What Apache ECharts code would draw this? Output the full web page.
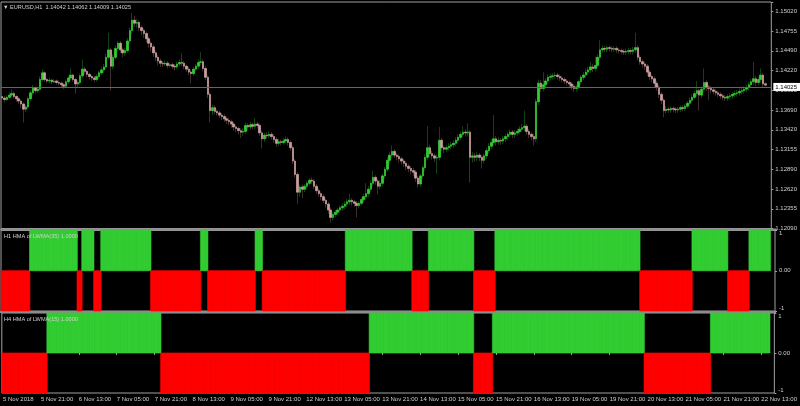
<!DOCTYPE html>
<html>
<head>
<meta charset="utf-8">
<script src="https://cdn.jsdelivr.net/npm/echarts@6/dist/echarts.min.js"></script>
<style>
  html, body { margin: 0; padding: 0; background: #000; }
  #chart { width: 800px; height: 406px; }
</style>
</head>
<body>
<div id="chart"></div>
<script>
// price axis tick labels (right side), bottom to top
const priceTicks = ['1.12090', '1.12355', '1.12620', '1.12890', '1.13155', '1.13420',
  '1.13690', '1.13955', '1.14220', '1.14490', '1.14755', '1.15020'];

// time labels, one every 16 hourly bars
const timeLabels = ['5 Nov 2018', '5 Nov 21:00', '6 Nov 13:00', '7 Nov 05:00', '7 Nov 21:00',
  '8 Nov 13:00', '9 Nov 05:00', '9 Nov 21:00', '12 Nov 13:00', '13 Nov 05:00', '13 Nov 21:00',
  '14 Nov 13:00', '15 Nov 05:00', '15 Nov 21:00', '16 Nov 13:00', '19 Nov 05:00', '19 Nov 21:00',
  '20 Nov 13:00', '21 Nov 05:00', '21 Nov 21:00', '22 Nov 13:00'];

// EURUSD H1 candles (open of each bar = previous close)
const firstOpen = 1.1387;
const closes = [
  1.1385,1.1383,1.1386,1.1389,1.1391,1.1387,1.1384,1.1381,1.1377,1.1370,
  1.1373,1.1384,1.1392,1.1399,1.1395,1.1397,1.1410,1.1419,1.1410,1.1408,
  1.1409,1.1407,1.1408,1.1406,1.1405,1.1403,1.1401,1.1407,1.1412,1.1416,
  1.1410,1.1404,1.1406,1.1415,1.1424,1.1421,1.1417,1.1414,1.1412,1.1410,
  1.1414,1.1419,1.1423,1.1427,1.1440,1.1450,1.1428,1.1440,1.1452,1.1459,
  1.1450,1.1446,1.1449,1.1462,1.1476,1.1490,1.1486,1.1487,1.1480,1.1476,
  1.1472,1.1465,1.1459,1.1454,1.1446,1.1440,1.1435,1.1432,1.1431,1.1432,
  1.1429,1.1430,1.1428,1.1427,1.1431,1.1433,1.1432,1.1428,1.1424,1.1420,
  1.1418,1.1424,1.1428,1.1433,1.1434,1.1425,1.1413,1.1390,1.1368,1.1372,
  1.1367,1.1365,1.1362,1.1360,1.1357,1.1355,1.1353,1.1350,1.1346,1.1344,
  1.1341,1.1339,1.1340,1.1348,1.1346,1.1349,1.1347,1.1350,1.1348,1.1338,
  1.1330,1.1335,1.1334,1.1336,1.1333,1.1329,1.1324,1.1326,1.1325,1.1327,
  1.1329,1.1325,1.1318,1.1300,1.1282,1.1258,1.1265,1.1262,1.1266,1.1270,
  1.1274,1.1273,1.1266,1.1260,1.1256,1.1252,1.1247,1.1242,1.1234,1.1224,
  1.1228,1.1231,1.1234,1.1237,1.1239,1.1242,1.1245,1.1247,1.1245,1.1243,
  1.1240,1.1243,1.1248,1.1252,1.1256,1.1262,1.1270,1.1278,1.1273,1.1266,
  1.1270,1.1280,1.1289,1.1301,1.1308,1.1313,1.1308,1.1306,1.1303,1.1300,
  1.1297,1.1293,1.1290,1.1287,1.1285,1.1277,1.1269,1.1280,1.1291,1.1305,
  1.1318,1.1310,1.1307,1.1304,1.1305,1.1328,1.1318,1.1316,1.1318,1.1320,
  1.1322,1.1324,1.1328,1.1332,1.1336,1.1339,1.1338,1.1339,1.1305,1.1307,
  1.1305,1.1308,1.1305,1.1301,1.1307,1.1314,1.1320,1.1325,1.1330,1.1326,
  1.1328,1.1327,1.1330,1.1333,1.1336,1.1339,1.1336,1.1338,1.1340,1.1343,
  1.1345,1.1347,1.1340,1.1336,1.1333,1.1330,1.1380,1.1405,1.1398,1.1403,
  1.1408,1.1413,1.1414,1.1415,1.1416,1.1414,1.1412,1.1410,1.1408,1.1406,
  1.1404,1.1401,1.1398,1.1400,1.1407,1.1413,1.1416,1.1420,1.1423,1.1427,
  1.1425,1.1429,1.1440,1.1450,1.1452,1.1451,1.1453,1.1452,1.1451,1.1452,
  1.1450,1.1449,1.1448,1.1447,1.1448,1.1449,1.1448,1.1450,1.1453,1.1440,
  1.1434,1.1431,1.1428,1.1420,1.1414,1.1411,1.1405,1.1400,1.1390,1.1382,
  1.1368,1.1370,1.1369,1.1371,1.1370,1.1369,1.1370,1.1372,1.1371,1.1374,
  1.1378,1.1382,1.1386,1.1391,1.1395,1.1389,1.1397,1.1406,1.1400,1.1398,
  1.1396,1.1394,1.1392,1.1390,1.1388,1.1386,1.1385,1.1387,1.1388,1.1390,
  1.1391,1.1392,1.1394,1.1395,1.1397,1.1399,1.1403,1.1407,1.1411,1.1406,
  1.1410,1.1416,1.14042,1.14025
];
const lows = [
  1.1382,1.1379,1.1381,1.1384,1.1386,1.1384,1.1380,1.1377,1.1372,1.1352,
  1.1366,1.1370,1.1381,1.1389,1.1391,1.1392,1.1395,1.1407,1.1407,1.1405,
  1.1405,1.1404,1.1405,1.1403,1.1402,1.1399,1.1397,1.1399,1.1404,1.1409,
  1.1407,1.1391,1.1400,1.1403,1.1412,1.1417,1.1413,1.1410,1.1408,1.1406,
  1.1407,1.1411,1.1416,1.1419,1.1424,1.1437,1.1395,1.1424,1.1437,1.1448,
  1.1446,1.1440,1.1442,1.1446,1.1458,1.1472,1.1481,1.1480,1.1475,1.1470,
  1.1466,1.1460,1.1453,1.1448,1.1441,1.1435,1.1429,1.1427,1.1427,1.1428,
  1.1425,1.1426,1.1424,1.1422,1.1424,1.1428,1.1428,1.1424,1.1420,1.1416,
  1.1405,1.1415,1.1421,1.1425,1.1429,1.1421,1.1409,1.1385,1.1352,1.1362,
  1.1363,1.1361,1.1358,1.1355,1.1353,1.1350,1.1348,1.1345,1.1341,1.1339,
  1.1336,1.1331,1.1334,1.1336,1.1341,1.1342,1.1343,1.1343,1.1344,1.1334,
  1.1317,1.1326,1.1330,1.1331,1.1329,1.1325,1.1319,1.1320,1.1321,1.1322,
  1.1324,1.1321,1.1314,1.1296,1.1278,1.1242,1.1252,1.1250,1.1258,1.1262,
  1.1267,1.1269,1.1262,1.1256,1.1252,1.1247,1.1243,1.1237,1.1229,1.1217,
  1.1220,1.1224,1.1227,1.1230,1.1233,1.1235,1.1238,1.1241,1.1240,1.1238,
  1.1224,1.1236,1.1240,1.1244,1.1248,1.1252,1.1258,1.1266,1.1268,1.1255,
  1.1262,1.1266,1.1276,1.1286,1.1297,1.1304,1.1304,1.1301,1.1298,1.1295,
  1.1292,1.1288,1.1285,1.1282,1.1280,1.1272,1.1264,1.1265,1.1276,1.1287,
  1.1301,1.1305,1.1302,1.1299,1.1283,1.1301,1.1313,1.1311,1.1312,1.1314,
  1.1316,1.1318,1.1320,1.1324,1.1328,1.1332,1.1333,1.1333,1.1271,1.1298,
  1.1299,1.1300,1.1300,1.1290,1.1297,1.1303,1.1310,1.1316,1.1321,1.1321,
  1.1322,1.1322,1.1323,1.1326,1.1329,1.1332,1.1331,1.1331,1.1334,1.1336,
  1.1339,1.1340,1.1335,1.1331,1.1328,1.1321,1.1326,1.1376,1.1393,1.1394,
  1.1399,1.1404,1.1409,1.1410,1.1411,1.1410,1.1408,1.1406,1.1404,1.1402,
  1.1399,1.1396,1.1393,1.1394,1.1397,1.1403,1.1409,1.1412,1.1416,1.1419,
  1.1420,1.1421,1.1426,1.1436,1.1446,1.1447,1.1447,1.1448,1.1447,1.1447,
  1.1446,1.1445,1.1444,1.1443,1.1443,1.1444,1.1444,1.1444,1.1446,1.1436,
  1.1430,1.1426,1.1423,1.1415,1.1409,1.1406,1.1400,1.1395,1.1385,1.1377,
  1.1359,1.1364,1.1365,1.1365,1.1366,1.1365,1.1365,1.1366,1.1367,1.1368,
  1.1371,1.1375,1.1379,1.1383,1.1387,1.1368,1.1385,1.1393,1.1395,1.1382,
  1.1391,1.1390,1.1388,1.1386,1.1384,1.1382,1.1381,1.1381,1.1383,1.1384,
  1.1386,1.1387,1.1388,1.1390,1.1391,1.1393,1.1395,1.1399,1.1403,1.1401,
  1.1402,1.1406,1.1400,1.14009
];
const highs = [
  1.1390,1.1388,1.1389,1.1393,1.1397,1.1394,1.1389,1.1386,1.1383,1.1379,
  1.1376,1.1387,1.1395,1.1403,1.1401,1.1400,1.1414,1.1424,1.1421,1.1412,
  1.1412,1.1411,1.1411,1.1410,1.1409,1.1407,1.1405,1.1410,1.1415,1.1425,
  1.1418,1.1412,1.1409,1.1418,1.1437,1.1427,1.1423,1.1419,1.1416,1.1415,
  1.1417,1.1422,1.1427,1.1431,1.1445,1.1473,1.1453,1.1444,1.1456,1.1462,
  1.1462,1.1453,1.1453,1.1466,1.1480,1.1500,1.1496,1.1492,1.1490,1.1483,
  1.1479,1.1475,1.1468,1.1462,1.1457,1.1449,1.1443,1.1438,1.1435,1.1436,
  1.1435,1.1433,1.1433,1.1431,1.1434,1.1437,1.1445,1.1435,1.1430,1.1427,
  1.1423,1.1427,1.1431,1.1437,1.1447,1.1437,1.1428,1.1416,1.1393,1.1376,
  1.1375,1.1370,1.1368,1.1365,1.1363,1.1360,1.1358,1.1356,1.1353,1.1349,
  1.1347,1.1344,1.1344,1.1352,1.1351,1.1353,1.1352,1.1358,1.1353,1.1351,
  1.1341,1.1338,1.1339,1.1340,1.1339,1.1336,1.1332,1.1330,1.1329,1.1331,
  1.1333,1.1332,1.1328,1.1321,1.1303,1.1285,1.1268,1.1268,1.1269,1.1273,
  1.1277,1.1278,1.1276,1.1269,1.1263,1.1259,1.1255,1.1250,1.1245,1.1237,
  1.1231,1.1234,1.1237,1.1240,1.1243,1.1246,1.1249,1.1256,1.1250,1.1248,
  1.1246,1.1246,1.1251,1.1256,1.1270,1.1266,1.1274,1.1287,1.1281,1.1276,
  1.1274,1.1283,1.1292,1.1305,1.1312,1.1321,1.1316,1.1311,1.1309,1.1306,
  1.1303,1.1300,1.1296,1.1293,1.1291,1.1288,1.1280,1.1283,1.1294,1.1309,
  1.1347,1.1322,1.1314,1.1310,1.1309,1.1346,1.1331,1.1321,1.1322,1.1324,
  1.1326,1.1328,1.1332,1.1336,1.1340,1.1347,1.1343,1.1351,1.1342,1.1312,
  1.1311,1.1312,1.1311,1.1308,1.1310,1.1318,1.1324,1.1329,1.1362,1.1334,
  1.1332,1.1331,1.1334,1.1337,1.1340,1.1343,1.1342,1.1342,1.1344,1.1347,
  1.1350,1.1368,1.1350,1.1343,1.1339,1.1337,1.1384,1.1410,1.1409,1.1420,
  1.1412,1.1417,1.1418,1.1419,1.1420,1.1419,1.1417,1.1415,1.1413,1.1411,
  1.1409,1.1407,1.1404,1.1403,1.1410,1.1416,1.1420,1.1424,1.1427,1.1434,
  1.1431,1.1441,1.1444,1.1463,1.1456,1.1455,1.1456,1.1456,1.1455,1.1455,
  1.1455,1.1453,1.1452,1.1451,1.1452,1.1453,1.1452,1.1454,1.1473,1.1456,
  1.1443,1.1437,1.1434,1.1431,1.1423,1.1417,1.1414,1.1408,1.1403,1.1393,
  1.1385,1.1374,1.1373,1.1374,1.1374,1.1373,1.1373,1.1375,1.1375,1.1377,
  1.1381,1.1386,1.1390,1.1395,1.1408,1.1398,1.1401,1.1425,1.1409,1.1403,
  1.1401,1.1399,1.1397,1.1395,1.1393,1.1391,1.1389,1.1390,1.1392,1.1393,
  1.1395,1.1396,1.1398,1.1399,1.1401,1.1403,1.1407,1.1411,1.1434,1.1415,
  1.1414,1.1425,1.1419,1.14062
];

// indicator states as [value, number of bars]
const h1Runs = [[-1, 12], [1, 20], [-1, 2], [1, 5], [-1, 3], [1, 21], [-1, 21], [1, 3],
  [-1, 20], [1, 3], [-1, 35], [1, 28], [-1, 7], [1, 19], [-1, 9], [1, 61], [-1, 22],
  [1, 15], [-1, 9], [1, 9]];
const h4Runs = [[-1, 19], [1, 48], [-1, 88], [1, 44], [-1, 8], [1, 64], [-1, 28], [1, 25]];

const FONT = 'Liberation Sans, Arial, sans-serif';
const TXT = '#d0d0d0';
const FRAME = '#a0a0a0';
const GREEN = '#32cd32';
const RED = '#ff0000';

const PRICE_MIN = parseFloat(priceTicks[0]);
const PRICE_STEP = (parseFloat(priceTicks[priceTicks.length - 1]) - PRICE_MIN) / (priceTicks.length - 1);

const opens = closes.map((c, i) => (i === 0 ? firstOpen : closes[i - 1]));
const wickData = closes.map((c, i) => [opens[i], c, lows[i], highs[i]]);
const bodyData = closes.map((c, i) => [opens[i], c, Math.min(opens[i], c), Math.max(opens[i], c)]);

function expandRuns(runs) {
  const out = [];
  runs.forEach(([v, n]) => { for (let k = 0; k < n; k++) out.push([out.length, v]); });
  return out;
}
const h1 = expandRuns(h1Runs);
const h4 = expandRuns(h4Runs);

// two empty slots on the right like the terminal shift
const cats = Array.from({ length: closes.length + 2 }, (_, i) => String(i));
const last = closes.length - 1;

const chart = echarts.init(document.getElementById('chart'));

const grids = [
  { left: 1, width: 774, top: 2, height: 226.5 },
  { left: 1, width: 774, top: 230.5, height: 80.5 },
  { left: 1, width: 774, top: 313, height: 80 }
].map(g => Object.assign(g, { show: true, borderColor: FRAME, borderWidth: 1, backgroundColor: 'transparent' }));

const xAxes = [0, 1, 2].map(gi => ({
  type: 'category',
  gridIndex: gi,
  data: cats,
  boundaryGap: true,
  axisLine: { show: false },
  axisTick: gi === 2 ? { show: true, interval: 15, alignWithLabel: true, length: 2, lineStyle: { color: FRAME } } : { show: false },
  axisLabel: gi === 2 ? {
    show: true, interval: 15, align: 'left', margin: 3, fontSize: 6, color: TXT, fontFamily: FONT,
    formatter: (v, idx) => (idx % 16 === 0 && timeLabels[idx / 16]) ? timeLabels[idx / 16] : ''
  } : { show: false },
  splitLine: { show: false }
}));

function signAxis(gi) {
  return {
    type: 'value', gridIndex: gi, position: 'right', min: -1, max: 1, interval: 1,
    axisLine: { show: false },
    axisTick: { show: true, length: 2, lineStyle: { color: FRAME } },
    splitLine: { show: false },
    axisLabel: {
      margin: 4, fontSize: 6, color: TXT, fontFamily: FONT,
      verticalAlignMaxLabel: 'top', verticalAlignMinLabel: 'bottom',
      formatter: v => (v === 0 ? '0.00' : String(v))
    }
  };
}

const yAxes = [
  {
    type: 'value', gridIndex: 0, position: 'right', scale: true,
    min: PRICE_MIN, max: 1.15146, interval: PRICE_STEP,
    axisLine: { show: false },
    axisTick: { show: true, length: 2, lineStyle: { color: FRAME } },
    splitLine: { show: false },
    axisLabel: {
      margin: 4, fontSize: 6, color: TXT, fontFamily: FONT,
      formatter: v => {
        const k = (v - PRICE_MIN) / PRICE_STEP;
        const r = Math.round(k);
        return (Math.abs(k - r) < 0.05 && priceTicks[r]) ? priceTicks[r] : '';
      }
    }
  },
  signAxis(1),
  signAxis(2)
];

// +1 / -1 histogram; each column slightly overlaps the next so the blocks stay solid
function signSeries(gi, data) {
  return {
    type: 'custom', xAxisIndex: gi, yAxisIndex: gi, data: data, silent: true,
    renderItem: (params, api) => {
      const v = api.value(1);
      const base = api.coord([api.value(0), 0]);
      const top = api.coord([api.value(0), v]);
      const w = api.size([1, 0])[0];
      const c = v > 0 ? GREEN : RED;
      return {
        type: 'rect',
        shape: { x: base[0] - w / 2, y: Math.min(base[1], top[1]), width: w + 0.4, height: Math.abs(top[1] - base[1]) },
        style: { fill: c, stroke: c, lineWidth: 0.6 }
      };
    }
  };
}

const fmt = v => v.toFixed(5);
const titleStyle = { fontSize: 5.6, color: TXT, fontWeight: 'normal', fontFamily: FONT };

chart.setOption({
  backgroundColor: '#000',
  animation: false,
  title: [
    { text: '\u25BC EURUSD,H1  ' + [opens[last], highs[last], lows[last], closes[last]].map(fmt).join(' '),
      left: 3, top: 4, padding: 0, textStyle: titleStyle },
    { text: 'H1 HMA of LWMA(35) 1.0000', left: 4, top: 233, padding: 0, textStyle: titleStyle },
    { text: 'H4 HMA of LWMA(15) 1.0000', left: 4, top: 316, padding: 0, textStyle: titleStyle }
  ],
  grid: grids,
  xAxis: xAxes,
  yAxis: yAxes,
  graphic: [
    { type: 'rect', shape: { x: 0, y: 228.5, width: 776, height: 2 }, style: { fill: '#8c8c8c' } },
    { type: 'rect', shape: { x: 0, y: 311, width: 776, height: 2 }, style: { fill: '#8c8c8c' } }
  ],
  series: [
    {
      type: 'candlestick', xAxisIndex: 0, yAxisIndex: 0, data: wickData,
      barWidth: 2, large: false, silent: true,
      itemStyle: { color: '#1f6f1f', color0: '#6a4c4c', borderColor: '#1f6f1f', borderColor0: '#6a4c4c', borderWidth: 0.6 }
    },
    {
      type: 'candlestick', xAxisIndex: 0, yAxisIndex: 0, data: bodyData,
      barWidth: 2, large: false, silent: true,
      itemStyle: { color: GREEN, color0: '#c9a0a0', borderColor: GREEN, borderColor0: '#c9a0a0', borderWidth: 0.6 },
      markLine: {
        silent: true, symbol: ['none', 'none'], animation: false,
        lineStyle: { color: '#5f6670', width: 1, type: 'solid' },
        label: {
          show: true, position: 'end', distance: 2, formatter: fmt(closes[last]),
          fontSize: 6, color: '#000', backgroundColor: '#fff', padding: [1, 3, 1, 2], fontFamily: FONT
        },
        data: [{ yAxis: closes[last] }]
      }
    },
    signSeries(1, h1),
    signSeries(2, h4)
  ]
});
</script>
</body>
</html>
